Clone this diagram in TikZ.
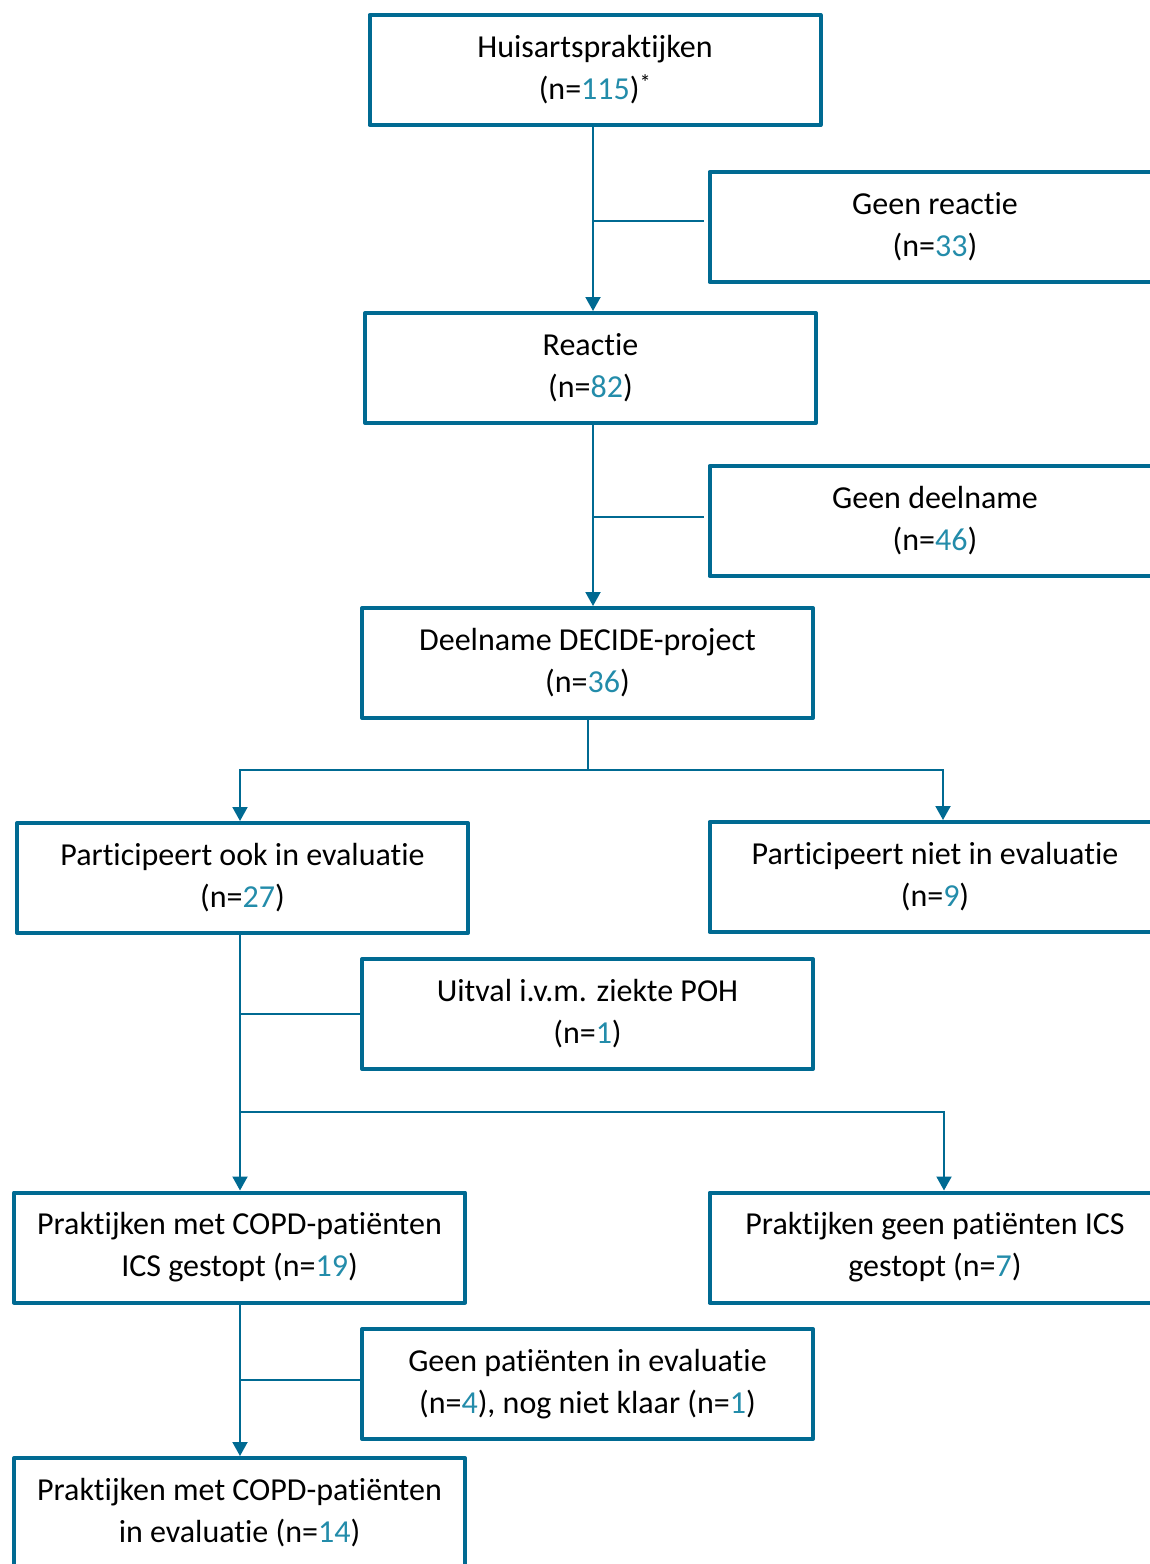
\documentclass[tikz,border=0pt]{standalone}
\usepackage{fontspec}
\setmainfont{Carlito}[RawFeature={-liga;-clig;-calt;-dlig;-rlig}]
\usepackage{xcolor}
\usetikzlibrary{arrows.meta,positioning,calc}
\definecolor{linkblue}{RGB}{0,106,146}
\definecolor{numblue}{RGB}{35,140,170}
\newcommand{\nval}[1]{\textcolor{numblue}{#1}}

\begin{document}
\begin{tikzpicture}[
  x=1pt, y=-1pt,
  font=\fontsize{32}{42}\selectfont,
  box/.style={draw=linkblue, line width=4pt, line join=round, align=center, minimum width=451pt, minimum height=110pt, inner sep=0pt, fill=white},
  arr/.style={-{Triangle[length=14pt,width=15pt]}, line width=2pt, draw=linkblue},
  link/.style={line width=2pt, draw=linkblue}
]
\useasboundingbox (0,0) rectangle (1150,1564);
\clip (0,0) rectangle (1150,1564);

% main column
\node[box] (huis) at (595,70) {Huisartspraktijken\\(n=\nval{115})\textsuperscript{*}};
\node[box, below=184pt of huis, xshift=-4.5pt] (reactie) {Reactie\\(n=\nval{82})};
\node[box, below=181pt of reactie, xshift=-3pt] (deelname) {Deelname DECIDE-project\\(n=\nval{36})};
\node[box] (ook) at (242.5,878) {Participeert ook in evaluatie\\(n=\nval{27})};
\node[box] (ics) at (239.5,1247.5) {Praktijken met COPD-patiënten\\ICS gestopt (n=\nval{19})};
\node[box] (inevaluatie) at (239.5,1513) {Praktijken met COPD-patiënten\\in evaluatie (n=\nval{14})};

% side boxes
\node[box] (geenreactie) at (935,227) {Geen reactie\\(n=\nval{33})};
\node[box] (geendeelname) at (935,521) {Geen deelname\\(n=\nval{46})};
\node[box] (niet) at (935,877) {Participeert niet in evaluatie\\(n=\nval{9})};
\node[box] (uitval) at (587.5,1014) {Uitval i.v.m. ziekte POH\\(n=\nval{1})};
\node[box] (geenics) at (935,1247.5) {Praktijken geen patiënten ICS\\gestopt (n=\nval{7})};
\node[box] (geenpat) at (587.5,1384) {Geen patiënten in evaluatie\\(n=\nval{4}), nog niet klaar (n=\nval{1})};

\coordinate (split1) at (587.5,770);
\coordinate (split2) at (240,1112);
\coordinate (tapreactie) at ([xshift=-4pt,yshift=6pt]geenreactie.west);
\coordinate (tapdeelname) at ([xshift=-4pt,yshift=4pt]geendeelname.west);
\coordinate (tapgeenpat) at ([yshift=4pt]geenpat.west);

\draw[arr] ([xshift=-2pt]huis.south) -- ([xshift=2.5pt]reactie.north);
\draw[link] ([xshift=2.5pt]reactie.north |- tapreactie) -- (tapreactie);
\draw[arr] ([xshift=2.5pt]reactie.south) -- ([xshift=5.5pt]deelname.north);
\draw[link] ([xshift=2.5pt]reactie.south |- tapdeelname) -- (tapdeelname);
\draw[link] (deelname.south) -- (split1);
\draw[arr] (split1) -| ([xshift=-2.5pt]ook.north);
\draw[arr] (split1) -| ([xshift=8pt]niet.north);
\draw[arr] ([xshift=-2.5pt]ook.south) -- ([xshift=0.5pt]ics.north);
\draw[link] ([xshift=-2.5pt]ook.south |- uitval.west) -- (uitval.west);
\draw[arr] (split2) -| ([xshift=9pt]geenics.north);
\draw[arr] ([xshift=0.5pt]ics.south) -- ([xshift=0.5pt]inevaluatie.north);
\draw[link] ([xshift=0.5pt]ics.south |- tapgeenpat) -- (tapgeenpat);
\end{tikzpicture}
\end{document}
